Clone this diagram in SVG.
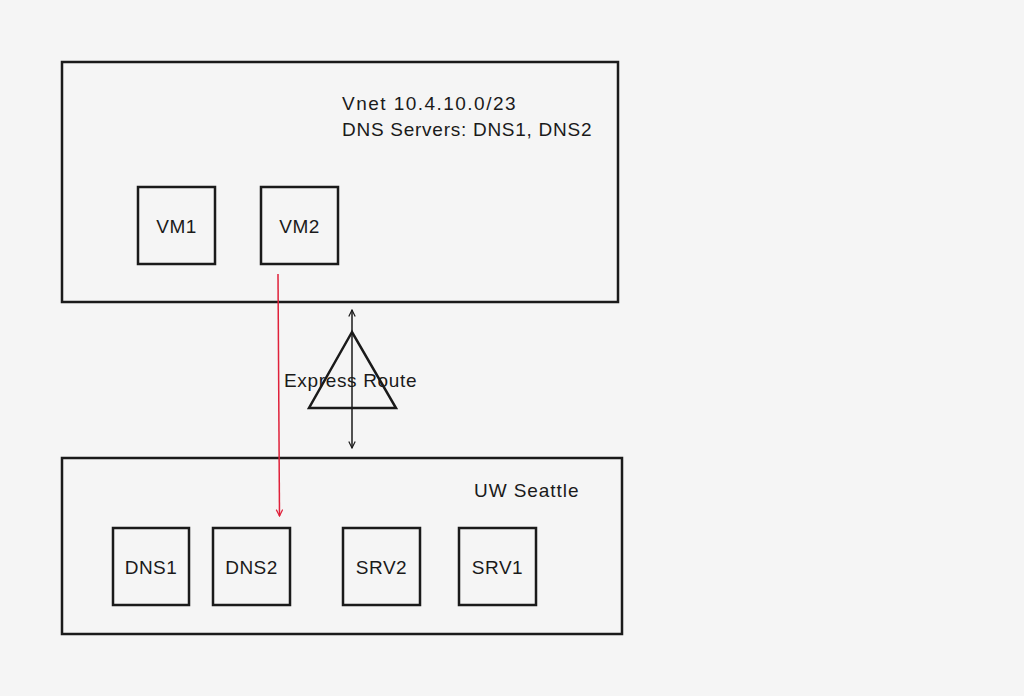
<svg xmlns="http://www.w3.org/2000/svg" width="1024" height="696" viewBox="0 0 1024 696">
<defs>
<style>
.box{fill:none;stroke:#1a1a1a;stroke-width:2.5}
.t{font-family:"Liberation Sans","DejaVu Sans",sans-serif;font-size:19px;fill:#1a1a1a;letter-spacing:0.5px}
.c{text-anchor:middle}
</style>
<marker id="ah" viewBox="0 0 10 10" refX="9" refY="5" markerWidth="8" markerHeight="8" orient="auto-start-reverse" markerUnits="userSpaceOnUse">
<path d="M1,1 L9,5 L1,9" fill="none" stroke="#1a1a1a" stroke-width="1.5"/>
</marker>
<marker id="ahr" viewBox="0 0 10 10" refX="9" refY="5" markerWidth="8" markerHeight="8" orient="auto" markerUnits="userSpaceOnUse">
<path d="M1,1 L9,5 L1,9" fill="none" stroke="#e0203a" stroke-width="1.5"/>
</marker>
</defs>
<rect width="1024" height="696" fill="#f5f5f5"/>
<g id="vnet">
<rect class="box" x="62" y="62" width="556" height="240"/>
<text class="t" x="342" y="110" textLength="174">Vnet 10.4.10.0/23</text>
<text class="t" x="342" y="136" textLength="250">DNS Servers: DNS1, DNS2</text>
</g>
<g id="vm1"><rect class="box" x="138" y="187" width="77" height="77"/><text class="t c" x="176.5" y="233">VM1</text></g>
<g id="vm2"><rect class="box" x="261" y="187" width="77" height="77"/><text class="t c" x="299.5" y="233">VM2</text></g>
<g id="expressroute">
<polygon class="box" points="352,332 309,408 396,408"/>
<text class="t" x="284" y="387" textLength="133">Express Route</text>
</g>
<g id="uw">
<rect class="box" x="62" y="458" width="560" height="176"/>
<text class="t" x="474" y="497" textLength="105">UW Seattle</text>
</g>
<g id="dns1"><rect class="box" x="113" y="528" width="76" height="77"/><text class="t c" x="151" y="574">DNS1</text></g>
<g id="dns2"><rect class="box" x="213" y="528" width="77" height="77"/><text class="t c" x="251.5" y="574">DNS2</text></g>
<g id="srv2"><rect class="box" x="343" y="528" width="77" height="77"/><text class="t c" x="381.5" y="574">SRV2</text></g>
<g id="srv1"><rect class="box" x="459" y="528" width="77" height="77"/><text class="t c" x="497.5" y="574">SRV1</text></g>
<g id="connectors">
<line x1="278" y1="274" x2="279.5" y2="516" stroke="#e0203a" stroke-width="1.5" marker-end="url(#ahr)"/>
<line x1="352" y1="310" x2="352" y2="448" stroke="#1a1a1a" stroke-width="1.5" marker-start="url(#ah)" marker-end="url(#ah)"/>
</g>
</svg>
